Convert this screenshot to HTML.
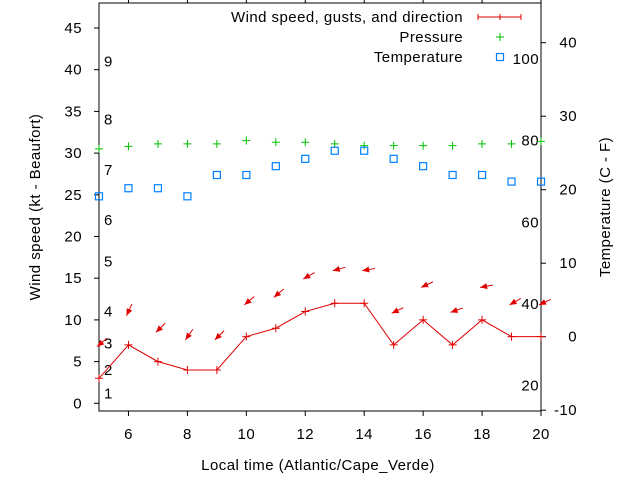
<!DOCTYPE html>
<html><head><meta charset="utf-8"><style>
html,body{margin:0;padding:0;background:#fff}
svg{display:block;font-family:"Liberation Sans",sans-serif;font-size:15px;letter-spacing:0.45px}
</style></head><body>
<svg id="chart" width="640" height="480" viewBox="0 0 640 480"></svg>
<script>
const hours=[5,6,7,8,9,10,11,12,13,14,15,16,17,18,19,20];
const windSpeed=[3,7,5,4,4,8,9,11,12,12,7,10,7,10,8,8];
const gustSpeed=[6.8,10.5,8.5,7.6,7.6,11.8,12.7,14.9,15.9,15.9,10.8,13.9,10.9,13.9,11.8,11.8];
const windDir=[50,25,45,35,45,50,50,60,75,80,65,65,70,80,60,65];
const pressure=[30.5,30.8,31.1,31.1,31.1,31.5,31.3,31.3,31.1,30.9,30.9,30.9,30.9,31.1,31.1,31.4];
const temperature=[19.1,20.2,20.2,19.1,22.0,22.0,23.2,24.2,25.3,25.3,24.2,23.2,22.0,22.0,21.1,21.1];
const xTicks=[6,8,10,12,14,16,18,20];
const yLeftTicks=[0,5,10,15,20,25,30,35,40,45];
const yRightTicks=[-10,0,10,20,30,40];
const beaufort=[1,2,3,4,5,6,7,8,9];
const beaufortKt=[1.2,4,7.2,11,17,22,28,34,41];
const fahr=[20,40,60,80,100];

const L=99,R=541,T=3,B=411;
const X=h=>L+(h-5)*(R-L)/15;
const Y=v=>403.3-v*41.7/5;
const Y2=c=>336.7-c*7.35;
const svg=document.getElementById('chart');
const NS='http://www.w3.org/2000/svg';
function mk(tag,attrs,text){const e=document.createElementNS(NS,tag);for(const k in attrs)e.setAttribute(k,attrs[k]);if(text!==undefined)e.textContent=text;svg.appendChild(e);return e;}

let e=mk('rect',{x:L,y:T,width:R-L,height:B-T,fill:'none',stroke:'#000','stroke-width':1});



xTicks.forEach(t=>{
 let a=mk('line',{x1:X(t),x2:X(t),y1:B,y2:B+5,stroke:'#000'});
 
 
 let b=mk('line',{x1:X(t),x2:X(t),y1:0,y2:T,stroke:'#000'});
 
 
 let l=mk('text',{x:X(t),y:439,'text-anchor':'middle'},String(t));
 
 
});
yLeftTicks.forEach(t=>{
 let a=mk('line',{x1:L-5,x2:L,y1:Y(t),y2:Y(t),stroke:'#000'});
 
 
 let l=mk('text',{x:82,y:Y(t)+5,'text-anchor':'end'},String(t));
 
 
});
yRightTicks.forEach(t=>{
 let a=mk('line',{x1:R,x2:R+5,y1:Y2(t),y2:Y2(t),stroke:'#000'});
 
 
 let l=mk('text',{x:577,y:Y2(t)+5,'text-anchor':'end'},String(t));
 
 
});
beaufort.forEach((b,i)=>{
 let l=mk('text',{x:104,y:Y(beaufortKt[i])+5},String(b));
 
 
});
fahr.forEach(f=>{
 let c=(f-32)*5/9;
 let l=mk('text',{x:539,y:Y2(c)+5,'text-anchor':'end'},String(f));
 
 
});

let t1=mk('text',{x:318,y:470,'text-anchor':'middle'},'Local time (Atlantic/Cape_Verde)');


let t2=mk('text',{x:0,y:0,'text-anchor':'middle',transform:'translate(40,207) rotate(-90)'},'Wind speed (kt - Beaufort)');


let t3=mk('text',{x:0,y:0,'text-anchor':'middle',transform:'translate(610,207) rotate(-90)'},'Temperature (C - F)');



let p=mk('polyline',{points:hours.map((h,i)=>X(h)+','+Y(windSpeed[i])).join(' '),fill:'none',stroke:'#e00000','stroke-width':1});


hours.forEach((h,i)=>{
 let x=X(h),y=Y(windSpeed[i]);
 let m=mk('path',{d:`M${x-4},${y}H${x+4}M${x},${y-4}V${y+4}`,stroke:'#e00000'});
 
 
});
hours.forEach((h,i)=>{
 let x=X(h)-2,y=Y(gustSpeed[i]);
 let r=windDir[i]*Math.PI/180;
 let ux=Math.sin(r),uy=-Math.cos(r);
 let tx=x+13*ux,ty=y+13*uy;
 let px=-uy,py=ux;
 let g=document.createElementNS(NS,'g');svg.appendChild(g);
 
 
 let ln=document.createElementNS(NS,'line');
 ln.setAttribute('x1',tx);ln.setAttribute('y1',ty);ln.setAttribute('x2',x);ln.setAttribute('y2',y);ln.setAttribute('stroke','#e00000');
 g.appendChild(ln);
 let hd=document.createElementNS(NS,'polygon');
 hd.setAttribute('points',`${x},${y} ${x+7*ux+3*px},${y+7*uy+3*py} ${x+7*ux-3*px},${y+7*uy-3*py}`);
 hd.setAttribute('fill','#e00000');
 g.appendChild(hd);
});
hours.forEach((h,i)=>{
 let x=X(h),y=Y(pressure[i]);
 let m=mk('path',{d:`M${x-4},${y}H${x+4}M${x},${y-4}V${y+4}`,stroke:'#00c000'});
 
 
});
hours.forEach((h,i)=>{
 let x=X(h),y=Y2(temperature[i]);
 let m=mk('rect',{x:x-3.5,y:y-3.5,width:7,height:7,fill:'none',stroke:'#0080ff','stroke-width':1.2});
 
 
});
const lg=[['Wind speed, gusts, and direction',22],['Pressure',42],['Temperature',62]];
lg.forEach(([s,y],i)=>{
 let l=mk('text',{x:463,y:y},s);
 l.setAttribute('text-anchor','end');
 
 
});
let s1=mk('path',{d:'M478,17H521M478,14V20M500,14V20M521,14V20',stroke:'#e00000'});


let s2=mk('path',{d:'M496,37H504M500,33V41',stroke:'#00c000'});


let s3=mk('rect',{x:496.5,y:53.5,width:7,height:7,fill:'none',stroke:'#0080ff','stroke-width':1.2});


</script>
</body></html>
